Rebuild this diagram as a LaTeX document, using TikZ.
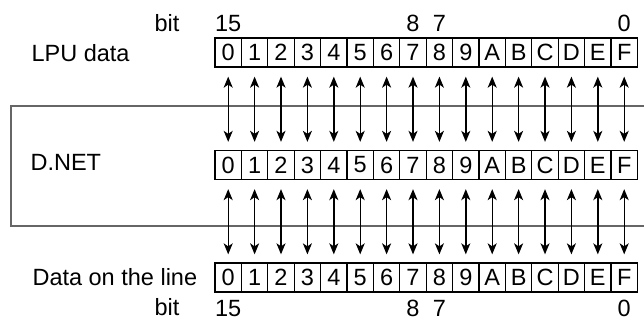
\documentclass[tikz,border=0pt]{standalone}
\usepackage{fontspec}
\setmainfont{Liberation Sans}
\usetikzlibrary{arrows.meta}

\begin{document}
\begin{tikzpicture}[x=1pt,y=-1pt,
    font=\fontsize{23.5}{27}\selectfont,
    cell/.style={draw, line width=1.3pt, minimum width=26.4pt, minimum height=29pt, inner sep=0pt},
    link/.style={line width=1.4pt, {Stealth[length=11pt,width=9pt,inset=3pt]}-{Stealth[length=11pt,width=9pt,inset=3pt]}, shorten <=9pt, shorten >=8pt},
    frame/.style={line width=1.2pt, black!60}]
  \useasboundingbox (0,0) rectangle (644,324);
  % outer frame of D.NET, open to the right
  \draw[frame] (644,106) -| (11,226) -- (644,226);
  % three rows of bit cells
  \foreach \i/\h in {0/0,1/1,2/2,3/3,4/4,5/5,6/6,7/7,8/8,9/9,10/A,11/B,12/C,13/D,14/E,15/F}{
    \node[cell] (l\i) at (228.2+26.4*\i,52.5) {\h};
    \node[cell] (d\i) at (228.2+26.4*\i,165) {\h};
    \node[cell] (w\i) at (228.2+26.4*\i,277.5) {\h};
  }
  % arrows between rows
  \foreach \i in {0,...,15}{
    \draw[link] (l\i.south) -- (d\i.north);
    \draw[link] (d\i.south) -- (w\i.north);
  }
  % row labels
  \node[anchor=west] (lpu) at (28,53) {LPU data};
  \node[anchor=west] (dnet) at (27,162) {D.NET};
  \node[anchor=west] (line) at (29,277) {Data on the line};
  % bit numbers
  \node (bittop) at (167,23) {bit};
  \node[anchor=south] (t15) at ([yshift=2pt]l0.north) {15};
  \node[anchor=south] (t8) at ([yshift=2pt]l7.north) {8};
  \node[anchor=south] (t7) at ([yshift=2pt]l8.north) {7};
  \node[anchor=south] (t0) at ([yshift=2pt]l15.north) {0};
  \node (bitbot) at (167,307) {bit};
  \node[anchor=north] (b15) at ([yshift=-4pt]w0.south) {15};
  \node[anchor=north] (b8) at ([yshift=-4pt]w7.south) {8};
  \node[anchor=north] (b7) at ([yshift=-4pt]w8.south) {7};
  \node[anchor=north] (b0) at ([yshift=-4pt]w15.south) {0};
\end{tikzpicture}
\end{document}
